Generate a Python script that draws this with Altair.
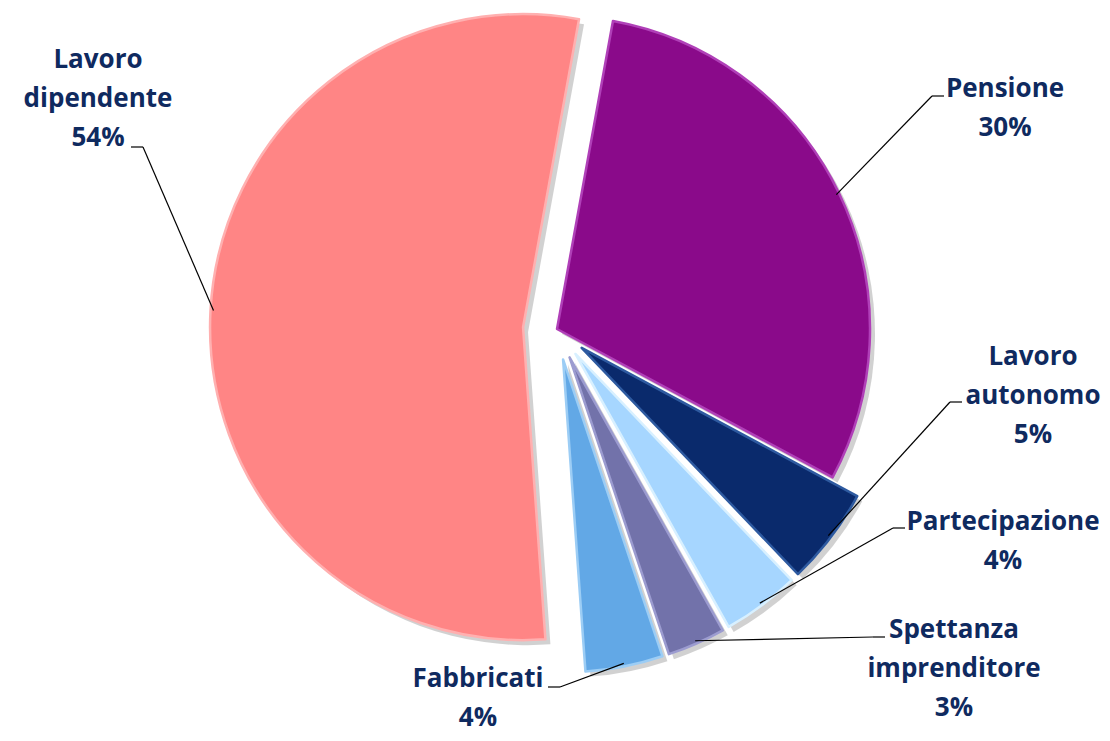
import math
import altair as alt
import pandas as pd

# ---------------- data ----------------
categories = ["Pensione", "Lavoro autonomo", "Partecipazione",
              "Spettanza imprenditore", "Fabbricati", "Lavoro dipendente"]
label_text = ["Pensione\n30%", "Lavoro\nautonomo\n5%", "Partecipazione\n4%",
              "Spettanza\nimprenditore\n3%", "Fabbricati\n4%", "Lavoro\ndipendente\n54%"]
shares = [30, 5, 4, 3, 4, 54]

# ---------------- style / layout ----------------
colors = ["#8A0A8A", "#0A2A6C", "#A6D6FF", "#7272AA", "#62A8E6", "#FF8585"]
rims = ["#B040B8", "#2E5AA0", "#D8F0FF", "#9C9CD0", "#9CCDF5", "#FFB0B0"]
explode = [0, 31, 31, 31, 31, 34]           # px pulled out from centre
# label block (centre x, first baseline) and leader anchor, relative to pie centre, y upwards
label_dx = [448, 476, 446, 397, -79, -459]
label_dy = [232, -36, -201, -309, -358, 261]
lead_dx = [375, 393, 336, 316, 3, -414]
lead_dy = [233, -73, -199, -308, -358, 182]
tick_dir = [1, 1, 1, 1, -1, -1]

W, H = 1094, 725
CX, CY = 549, 321
R = 313
A0 = math.radians(10.3)

df = pd.DataFrame({
    "cat": categories, "label": label_text, "share": shares, "ord": range(len(shares)),
    "ex": explode, "lx": label_dx, "ly": label_dy, "tx": lead_dx, "ty": lead_dy, "td": tick_dir,
})

xs = alt.Scale(domain=[-CX, W - CX], nice=False, zero=False)
ys = alt.Scale(domain=[-(H - CY), CY], nice=False, zero=False)
ts = alt.Scale(domain=[0, 100], range=[A0, A0 + 2 * math.pi])
cs = alt.Scale(domain=categories, range=colors)
rs = alt.Scale(domain=categories, range=rims)

base = alt.Chart(df).transform_window(
    cum="sum(share)", sort=[alt.SortField("ord")], frame=[None, 0]
).transform_calculate(
    t0="datum.cum - datum.share",
    t1="datum.cum",
    mid=f"{A0} + (datum.cum - datum.share/2) / 100 * 2 * PI",
).transform_calculate(
    cx="datum.ex * sin(datum.mid)",
    cy="datum.ex * cos(datum.mid)",
).transform_calculate(
    sx="datum.cx + 5",
    sy="datum.cy - 5",
    ax=f"datum.cx + {R - 3} * sin(datum.mid)",
    ay=f"datum.cy + {R - 3} * cos(datum.mid)",
    tx2="datum.tx + datum.td * 12",
)

shadow = base.mark_arc(radius=R, color="#000000", opacity=0.18).encode(
    theta=alt.Theta("t0:Q", scale=ts),
    theta2="t1:Q",
    x=alt.X("sx:Q", scale=xs, axis=None),
    y=alt.Y("sy:Q", scale=ys, axis=None),
)

arcs = base.mark_arc(radius=R, strokeWidth=2.5, strokeJoin="round").encode(
    theta=alt.Theta("t0:Q", scale=ts),
    theta2="t1:Q",
    x=alt.X("cx:Q", scale=xs, axis=None),
    y=alt.Y("cy:Q", scale=ys, axis=None),
    color=alt.Color("cat:N", scale=cs, legend=None),
    stroke=alt.Stroke("cat:N", scale=rs, legend=None),
)

leaders = base.mark_rule(color="#000000", strokeWidth=1.2).encode(
    x=alt.X("ax:Q", scale=xs, axis=None),
    y=alt.Y("ay:Q", scale=ys, axis=None),
    x2="tx:Q",
    y2="ty:Q",
)

ticks = base.mark_rule(color="#000000", strokeWidth=1.2).encode(
    x=alt.X("tx:Q", scale=xs, axis=None),
    y=alt.Y("ty:Q", scale=ys, axis=None),
    x2="tx2:Q",
    y2="ty:Q",
)

labels = base.mark_text(
    font="Open Sans", fontSize=26, fontWeight="bold", color="#0F2A5F",
    align="center", baseline="alphabetic", lineBreak="\n", lineHeight=39,
).encode(
    x=alt.X("lx:Q", scale=xs, axis=None),
    y=alt.Y("ly:Q", scale=ys, axis=None),
    text="label:N",
)

chart = alt.layer(shadow, arcs, leaders, ticks, labels).properties(
    width=W, height=H, padding=0, autosize="none"
).configure_view(stroke=None)

chart.save("out.html", embed_options={"renderer": "svg", "actions": False})
